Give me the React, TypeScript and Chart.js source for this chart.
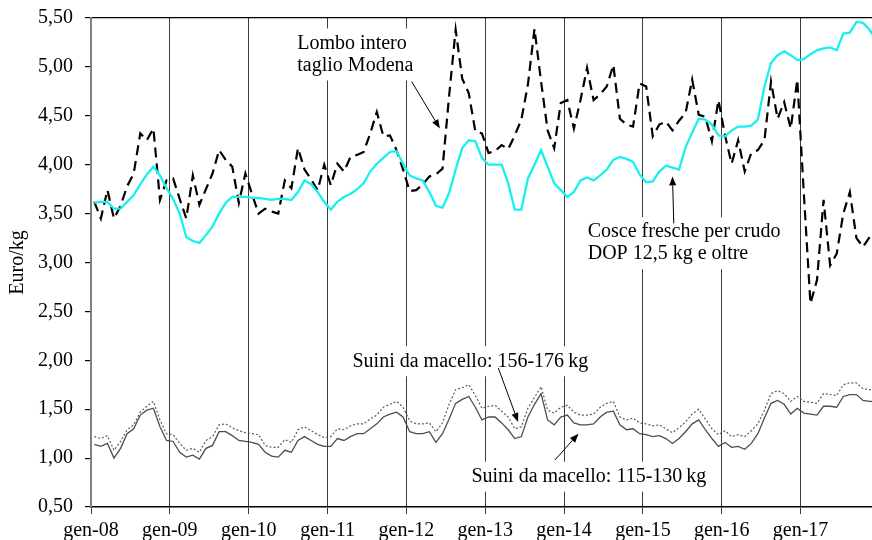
import { useEffect, useRef } from 'react';
import { Chart, registerables } from 'chart.js';

Chart.register(...registerables);

const FONT = "'Liberation Serif', 'Times New Roman', serif";

const monthNames = ['gen', 'feb', 'mar', 'apr', 'mag', 'giu', 'lug', 'ago', 'set', 'ott', 'nov', 'dic'];
const yearSuffixes = ['08', '09', '10', '11', '12', '13', '14', '15', '16', '17'];
const categories = yearSuffixes.flatMap((y) => monthNames.map((m) => `${m}-${y}`));

// Lombo intero taglio Modena (Euro/kg)
const lomboModena = [
  3.62, 3.45, 3.74, 3.45, 3.58, 3.78, 3.91, 4.32, 4.25, 4.37, 3.64, 3.84,
  3.86, 3.65, 3.45, 3.89, 3.59, 3.75, 3.91, 4.15, 4.05, 3.98, 3.61, 3.91,
  3.70, 3.50, 3.55, 3.52, 3.50, 3.84, 3.76, 4.17, 3.95, 3.85, 3.74, 4.00,
  3.79, 4.01, 3.93, 4.08, 4.10, 4.13, 4.32, 4.54, 4.29, 4.30, 4.15, 3.95,
  3.73, 3.74, 3.80, 3.88, 3.90, 3.96, 4.70, 5.38, 4.88, 4.73, 4.34, 4.32,
  4.12, 4.14, 4.20, 4.16, 4.30, 4.46, 4.82, 5.39, 4.85, 4.35, 4.17, 4.63,
  4.66, 4.37, 4.66, 4.99, 4.66, 4.72, 4.80, 5.02, 4.47, 4.41, 4.39, 4.83,
  4.80, 4.29, 4.41, 4.44, 4.35, 4.45, 4.53, 4.87, 4.51, 4.49, 4.24, 4.66,
  4.30, 4.01, 4.25, 3.93, 4.12, 4.15, 4.25, 4.85, 4.47, 4.64, 4.37, 4.87,
  3.70, 2.58, 2.82, 3.64, 2.97, 3.09, 3.50, 3.72, 3.25, 3.16, 3.26, 3.36,
];

// Cosce fresche per crudo DOP 12,5 kg e oltre (Euro/kg)
const cosceFresche = [
  3.61, 3.62, 3.62, 3.55, 3.55, 3.62, 3.69, 3.80, 3.90, 3.98, 3.89, 3.76,
  3.65, 3.50, 3.26, 3.22, 3.20, 3.28, 3.37, 3.50, 3.61, 3.67, 3.67, 3.67,
  3.66, 3.66, 3.65, 3.64, 3.65, 3.65, 3.64, 3.72, 3.84, 3.80, 3.72, 3.62,
  3.54, 3.62, 3.67, 3.70, 3.75, 3.81, 3.93, 4.01, 4.07, 4.13, 4.14, 4.01,
  3.89, 3.86, 3.84, 3.72, 3.58, 3.56, 3.71, 3.95, 4.17, 4.25, 4.24, 4.07,
  4.00, 4.00, 4.00, 3.81, 3.54, 3.54, 3.86, 4.00, 4.15, 3.98, 3.81, 3.74,
  3.67, 3.72, 3.84, 3.87, 3.84, 3.89, 3.95, 4.05, 4.08, 4.06, 4.03, 3.90,
  3.82, 3.83, 3.93, 3.99, 3.97, 3.95, 4.18, 4.33, 4.47, 4.46, 4.41, 4.30,
  4.29, 4.35, 4.39, 4.39, 4.40, 4.46, 4.80, 5.04, 5.12, 5.16, 5.12, 5.07,
  5.08, 5.13, 5.17, 5.19, 5.20, 5.17, 5.34, 5.35, 5.46, 5.45, 5.38, 5.28,
];

// Suini da macello 156-176 kg (Euro/kg)
const suini156176 = [
  1.22, 1.20, 1.23, 1.08, 1.17, 1.29, 1.34, 1.47, 1.53, 1.58, 1.39, 1.25,
  1.24, 1.15, 1.08, 1.10, 1.06, 1.18, 1.22, 1.34, 1.35, 1.31, 1.28, 1.26,
  1.25, 1.24, 1.13, 1.11, 1.11, 1.19, 1.16, 1.29, 1.32, 1.28, 1.24, 1.21,
  1.22, 1.30, 1.29, 1.33, 1.35, 1.35, 1.40, 1.44, 1.52, 1.55, 1.58, 1.52,
  1.38, 1.35, 1.35, 1.36, 1.27, 1.36, 1.55, 1.70, 1.72, 1.75, 1.64, 1.51,
  1.53, 1.54, 1.48, 1.42, 1.30, 1.32, 1.51, 1.62, 1.73, 1.49, 1.46, 1.52,
  1.54, 1.47, 1.44, 1.44, 1.45, 1.52, 1.56, 1.58, 1.42, 1.39, 1.41, 1.36,
  1.35, 1.33, 1.34, 1.30, 1.26, 1.31, 1.37, 1.45, 1.50, 1.40, 1.30, 1.24,
  1.28, 1.22, 1.24, 1.22, 1.28, 1.35, 1.49, 1.66, 1.69, 1.66, 1.58, 1.63,
  1.58, 1.57, 1.56, 1.66, 1.65, 1.64, 1.75, 1.77, 1.77, 1.71, 1.70, 1.70,
];

// Suini da macello 115-130 kg (Euro/kg)
const suini115130 = [
  1.14, 1.12, 1.15, 1.00, 1.10, 1.25, 1.30, 1.44, 1.49, 1.51, 1.32, 1.18,
  1.17, 1.06, 1.01, 1.03, 0.99, 1.10, 1.13, 1.27, 1.27, 1.23, 1.18, 1.17,
  1.16, 1.14, 1.06, 1.02, 1.01, 1.08, 1.06, 1.18, 1.22, 1.18, 1.14, 1.12,
  1.12, 1.20, 1.18, 1.22, 1.25, 1.25, 1.30, 1.35, 1.42, 1.45, 1.47, 1.42,
  1.27, 1.25, 1.25, 1.27, 1.16, 1.25, 1.40, 1.56, 1.60, 1.63, 1.52, 1.39,
  1.42, 1.42, 1.36, 1.29, 1.20, 1.22, 1.42, 1.55, 1.66, 1.39, 1.34, 1.42,
  1.44, 1.36, 1.34, 1.34, 1.35, 1.42, 1.47, 1.48, 1.34, 1.29, 1.30, 1.25,
  1.24, 1.22, 1.23, 1.20, 1.15, 1.20, 1.27, 1.35, 1.39, 1.29, 1.20, 1.12,
  1.16, 1.11, 1.12, 1.09, 1.15, 1.25, 1.41, 1.56, 1.59, 1.55, 1.45, 1.51,
  1.46, 1.45, 1.44, 1.53, 1.53, 1.52, 1.63, 1.65, 1.65, 1.59, 1.58, 1.58,
];

const yMin = 0.5;
const yMax = 5.5;
const yStep = 0.5;
const yTitle = 'Euro/kg';
// visible time window in months from gen-08 (the picture is cut during dic-17)
const xMin = 0;
const xMax = 118.87;
const xStep = 12;

// annotation texts (positions are given in data space: months from gen-08, Euro/kg)
const noteLombo = ['Lombo intero', 'taglio Modena'];
const noteCosce = ['Cosce fresche per crudo', 'DOP 12,5 kg e oltre'];
const noteSuiniPesanti = ['Suini da macello: 156-176\u2009kg'];
const noteSuiniLeggeri = ['Suini da macello: 115-130\u2009kg'];

const notes = [
  { lines: noteLombo, at: [31.4, 5.24], arrow: [[48.8, 4.85], [53.1, 4.37]] },
  { lines: noteCosce, at: [75.6, 3.31], arrow: [[88.7, 3.40], [88.5, 3.88]] },
  { lines: noteSuiniPesanti, at: [39.8, 1.99], arrow: [[62.0, 1.92], [65.0, 1.37]] },
  { lines: noteSuiniLeggeri, at: [57.9, 0.81], arrow: [[70.6, 0.98], [74.2, 1.25]] },
];

// monthly values are plotted in the middle of their month
const toPoints = (vals: number[]) => vals.map((v, i) => ({ x: i + 0.5, y: v }));

const notesPlugin = {
  id: 'notesPlugin',
  afterDatasetsDraw(chart: any) {
    const { ctx } = chart;
    const xs = chart.scales.x;
    const ys = chart.scales.y;
    ctx.save();
    ctx.font = `20px ${FONT}`;
    ctx.textBaseline = 'middle';
    ctx.textAlign = 'left';
    const lineGap = 22;
    for (const n of notes) {
      const left = xs.getPixelForValue(n.at[0]);
      const firstY = ys.getPixelForValue(n.at[1]);
      const w = Math.max(...n.lines.map((l: string) => ctx.measureText(l).width));
      const h = n.lines.length * lineGap;
      ctx.fillStyle = '#ffffff';
      ctx.fillRect(left - 5, firstY - lineGap / 2 - 4, w + 10, h + 8);
      ctx.fillStyle = '#000000';
      n.lines.forEach((l: string, k: number) => {
        ctx.fillText(l, left, firstY + k * lineGap);
      });
      // arrow
      const x1 = xs.getPixelForValue(n.arrow[0][0]);
      const y1 = ys.getPixelForValue(n.arrow[0][1]);
      const x2 = xs.getPixelForValue(n.arrow[1][0]);
      const y2 = ys.getPixelForValue(n.arrow[1][1]);
      const ang = Math.atan2(y2 - y1, x2 - x1);
      const head = 9;
      const hw = 3.5;
      const bx = x2 - head * Math.cos(ang);
      const by = y2 - head * Math.sin(ang);
      ctx.strokeStyle = '#000000';
      ctx.lineWidth = 1;
      ctx.beginPath();
      ctx.moveTo(x1, y1);
      ctx.lineTo(bx, by);
      ctx.stroke();
      ctx.beginPath();
      ctx.moveTo(x2, y2);
      ctx.lineTo(bx + hw * Math.sin(ang), by - hw * Math.cos(ang));
      ctx.lineTo(bx - hw * Math.sin(ang), by + hw * Math.cos(ang));
      ctx.closePath();
      ctx.fill();
    }
    ctx.restore();
  },
};

export default function App() {
  const canvasRef = useRef<HTMLCanvasElement | null>(null);

  useEffect(() => {
    if (!canvasRef.current) return;
    const chart = new Chart(canvasRef.current, {
      type: 'line',
      data: {
        datasets: [
          {
            label: 'Suini da macello: 115-130 kg',
            data: toPoints(suini115130),
            borderColor: '#4d4d4d',
            borderWidth: 1.3,
            pointRadius: 0,
            tension: 0,
          },
          {
            label: 'Suini da macello: 156-176 kg',
            data: toPoints(suini156176),
            borderColor: '#5a5a5a',
            borderWidth: 1.2,
            borderDash: [2, 2],
            pointRadius: 0,
            tension: 0,
          },
          {
            label: 'Cosce fresche per crudo DOP 12,5 kg e oltre',
            data: toPoints(cosceFresche),
            borderColor: '#18f0f0',
            borderWidth: 2.3,
            pointRadius: 0,
            tension: 0,
          },
          {
            label: 'Lombo intero taglio Modena',
            data: toPoints(lomboModena),
            borderColor: '#000000',
            borderWidth: 2.2,
            borderDash: [10, 6],
            pointRadius: 0,
            tension: 0,
          },
        ],
      },
      options: {
        animation: false,
        responsive: false,
        maintainAspectRatio: false,
        layout: { padding: 0 },
        plugins: {
          legend: { display: false },
          tooltip: { enabled: false },
          title: { display: false },
        },
        scales: {
          x: {
            type: 'linear',
            min: xMin,
            max: xMax,
            afterFit: (s: any) => {
              s.height = 33;
              s.paddingLeft = 0;
              s.paddingRight = 0;
            },
            grid: {
              color: '#3c3c3c',
              tickColor: '#3c3c3c',
              tickLength: 7,
              lineWidth: 1,
            },
            border: { color: '#000000', width: 1.5 },
            ticks: {
              stepSize: xStep,
              includeBounds: false,
              autoSkip: false,
              maxRotation: 0,
              minRotation: 0,
              padding: 5,
              color: '#000000',
              font: { family: FONT, size: 20, lineHeight: 1.2 },
              callback: (v: any) => categories[Math.round(Number(v))] ?? '',
            },
          },
          y: {
            min: yMin,
            max: yMax,
            afterFit: (s: any) => {
              s.width = 91;
              s.paddingTop = 18;
              s.paddingBottom = 0;
            },
            grid: {
              color: (c: any) => (c.tick && c.tick.value === yMax ? '#000000' : 'rgba(0,0,0,0)'),
              tickColor: '#000000',
              tickLength: 6,
              lineWidth: 1.2,
            },
            border: { color: '#808080', width: 2 },
            ticks: {
              stepSize: yStep,
              padding: 12,
              color: '#000000',
              font: { family: FONT, size: 20 },
              callback: (v: any) => Number(v).toFixed(2).replace('.', ','),
            },
            title: {
              display: true,
              text: yTitle,
              color: '#000000',
              font: { family: FONT, size: 20 },
              padding: { top: 6, bottom: 4 },
            },
          },
        },
      },
      plugins: [notesPlugin],
    });
    return () => chart.destroy();
  }, []);

  return (
    <div style={{ position: 'fixed', left: 0, top: 0, width: 872, height: 540, background: '#ffffff' }}>
      <canvas ref={canvasRef} width={872} height={540} style={{ display: 'block' }} />
    </div>
  );
}
